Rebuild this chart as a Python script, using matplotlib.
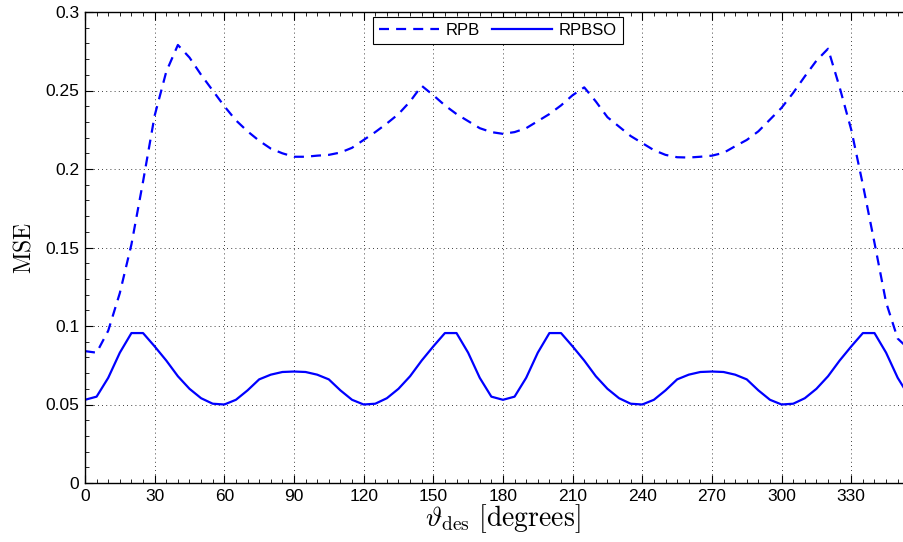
import matplotlib
matplotlib.use("Agg")
import matplotlib.pyplot as plt
from matplotlib.ticker import MultipleLocator

# angle samples in degrees
theta = list(range(0, 360, 5))

# MSE of RPB (dashed)
mse_rpb = [0.084, 0.083, 0.097, 0.121, 0.152, 0.192, 0.234, 0.262, 0.279, 0.271,
           0.260, 0.250, 0.240, 0.231, 0.224, 0.218, 0.213, 0.210, 0.2078, 0.2078,
           0.2085, 0.209, 0.2105, 0.2135, 0.2185, 0.2235, 0.229, 0.235, 0.243, 0.253,
           0.247, 0.2405, 0.235, 0.2305, 0.226, 0.2235, 0.2224, 0.2235, 0.226, 0.2305,
           0.235, 0.2405, 0.247, 0.252, 0.243, 0.233, 0.227, 0.221, 0.2165, 0.212,
           0.209, 0.2075, 0.2073, 0.2078, 0.2085, 0.2103, 0.2145, 0.2185, 0.224, 0.2315,
           0.239, 0.2485, 0.259, 0.269, 0.2766, 0.252, 0.225, 0.190, 0.153, 0.115,
           0.092, 0.085]

# MSE of RPBSO (solid)
mse_rpbso = [0.053, 0.055, 0.067, 0.083, 0.0955, 0.0955, 0.087, 0.078, 0.068, 0.060,
             0.054, 0.0505, 0.050, 0.053, 0.059, 0.066, 0.069, 0.0707, 0.071, 0.0707,
             0.069, 0.066, 0.059, 0.053, 0.050, 0.0505, 0.054, 0.060, 0.068, 0.078,
             0.087, 0.0955, 0.0955, 0.083, 0.067, 0.055, 0.053, 0.055, 0.067, 0.083,
             0.0955, 0.0955, 0.087, 0.078, 0.068, 0.060, 0.054, 0.0505, 0.050, 0.053,
             0.059, 0.066, 0.069, 0.0707, 0.071, 0.0707, 0.069, 0.066, 0.059, 0.053,
             0.050, 0.0505, 0.054, 0.060, 0.068, 0.078, 0.087, 0.0955, 0.0955, 0.083,
             0.067, 0.055]

xticks = list(range(0, 331, 30))
yticks = [0, 0.05, 0.1, 0.15, 0.2, 0.25, 0.3]
yticklabels = ['0', '0.05', '0.1', '0.15', '0.2', '0.25', '0.3']

plt.rcParams['font.family'] = ['Liberation Sans', 'DejaVu Sans']
plt.rcParams['mathtext.fontset'] = 'cm'

fig = plt.figure(figsize=(9.04, 5.42), dpi=100)
# axes runs past the right edge of the figure, as in the cropped original
ax_w = 360 * 2.322
ax = fig.add_axes([85 / 904, 1 - 483 / 542, ax_w / 904, 471 / 542])

ax.plot(theta, mse_rpb, color=(0, 0, 1), lw=1.6, dashes=(4.5, 3.2), label='RPB')
ax.plot(theta, mse_rpbso, color=(0, 0, 1), lw=1.6, label='RPBSO')

ax.set_xlim(0, 360)
ax.set_ylim(0, 0.3)
ax.set_xticks(xticks)
ax.set_yticks(yticks)
ax.set_yticklabels(yticklabels)
ax.xaxis.set_minor_locator(MultipleLocator(5))
ax.yaxis.set_minor_locator(MultipleLocator(0.01))
ax.tick_params(which='both', direction='in', top=True, right=True, labelsize=12.5)
ax.tick_params(which='major', length=6, width=0.8)
ax.tick_params(which='minor', length=3, width=0.6)
ax.tick_params(axis='x', pad=4)
ax.tick_params(axis='y', pad=4)

ax.grid(True, which='major', color='black', linestyle=(0, (1, 4)), linewidth=0.6)
for s in ax.spines.values():
    s.set_linewidth(1.0)

ax.set_xlabel(r'$\vartheta_{\mathrm{des}}\ [\mathrm{degrees}]$', fontsize=20, labelpad=-1)
ax.set_ylabel(r'$\mathrm{MSE}$', fontsize=17, labelpad=7)

leg = ax.legend(loc='upper center', bbox_to_anchor=((498 - 85) / ax_w, 1.0), ncol=2,
                fontsize=12, handlelength=3.6, columnspacing=0.7, handletextpad=0.4,
                borderpad=0.35, borderaxespad=0.3, fancybox=False, framealpha=1,
                edgecolor='black')
leg.get_frame().set_linewidth(0.8)

fig.savefig('out.png', dpi=100)
